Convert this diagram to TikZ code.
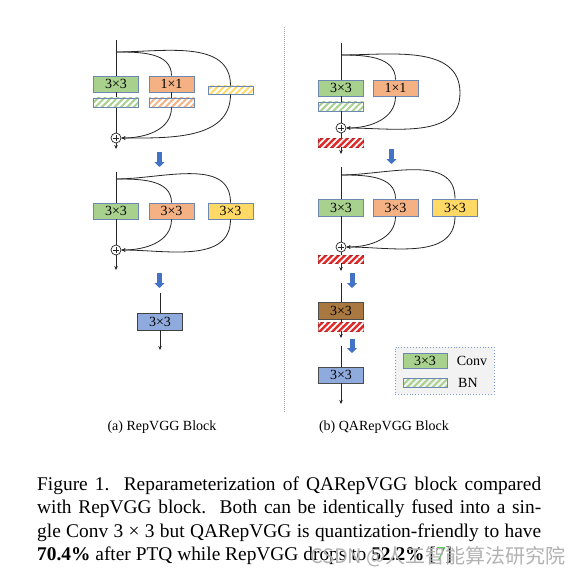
\documentclass[tikz,border=0pt]{standalone}
\usepackage{fontspec}
\setmainfont{Liberation Serif}
\newfontfamily\cjkwm{Noto Sans CJK SC}
\usetikzlibrary{patterns.meta,arrows.meta}
\definecolor{cgreen}{HTML}{A9D18E}
\definecolor{corange}{HTML}{F4B183}
\definecolor{cyellow}{HTML}{FFD966}
\definecolor{cblue}{HTML}{8FAADC}
\definecolor{cbrown}{HTML}{A87840}
\definecolor{cborder}{HTML}{6D87B3}
\definecolor{cred}{HTML}{E02A2A}
\definecolor{arrblue}{HTML}{4472C4}
\definecolor{sepgray}{HTML}{AAAAAA}
\definecolor{legbg}{HTML}{F2F2F2}
\definecolor{legbd}{HTML}{7F9CC8}
\definecolor{citegreen}{HTML}{00C000}
\newcommand\boxfont{\fontsize{14}{14}\selectfont}
\newcommand\capfont{\fontsize{19.4}{23.4}\selectfont}
\begin{document}
\begin{tikzpicture}[x=1pt,y=-1pt,
 conv/.style={draw=cborder, line width=0.9pt, fill=#1, minimum width=45pt, minimum height=16pt, inner sep=0pt, font=\boxfont},
 bnbox/.style={draw=cborder, line width=0.9pt, minimum width=45pt, minimum height=9pt, inner sep=0pt, pattern={Lines[angle=45,distance=4.5pt,line width=2pt]}, pattern color=#1},
 redbn/.style={draw=cred!80!black, line width=0.6pt, fill=cred, minimum width=45pt, minimum height=9pt, inner sep=0pt, postaction={pattern={Lines[angle=45,distance=4.5pt,line width=1.8pt]}, pattern color=white}},
 wire/.style={line width=0.8pt, draw=black!85},
 arr/.style={-{Stealth[length=4pt,width=3.5pt]}},
 plus/.style={circle, draw=black!85, line width=0.7pt, minimum size=10pt, inner sep=0pt, fill=white,
   path picture={\draw[line width=0.6pt] ([xshift=-3pt]path picture bounding box.center) -- ([xshift=3pt]path picture bounding box.center);
                 \draw[line width=0.6pt] ([yshift=-3pt]path picture bounding box.center) -- ([yshift=3pt]path picture bounding box.center);}},
 blarrow/.style={draw=arrblue, line width=5pt, -{Triangle[width=10pt,length=5pt]}},
 lab/.style={font=\fontsize{14}{14}\selectfont, inner sep=0pt},
]
\useasboundingbox[fill=white] (0,0) rectangle (579,578);

% separator
\coordinate (sepT) at (284,27);
\coordinate (sepB) at (284,413);
\draw[sepgray, line width=1pt, dash pattern=on 1pt off 1pt] (sepT) -- (sepB);

% ===== Left A1 =====
\coordinate (tA1) at (116,40);
\coordinate (brA1) at (116,52);
\node[conv=cgreen] (gA1) at (116,84) {3×3};
\node[bnbox=cgreen] (gbA1) at (116,102.5) {};
\node[conv=corange] (oA1) at (171.5,84) {1×1};
\node[bnbox=corange] (obA1) at (171.5,102.5) {};
\node[bnbox=cyellow, minimum height=8pt] (ybA1) at (230.5,90) {};
\node[plus] (pA1) at (116,138) {};
\coordinate (eA1) at (116,149);
\draw[wire] (tA1) -- (gA1.north) (gA1.south) -- (gbA1.north) (gbA1.south) -- (pA1.north);
\draw[wire,arr] (pA1.south) -- (eA1);
\draw[wire] (brA1) to[out=0,in=90] (oA1.north);
\draw[wire] (brA1) to[out=0,in=90] (ybA1.north);
\draw[wire] (oA1.south) -- (obA1.north);
\draw[wire,arr] (obA1.south) to[out=-90,in=0] (pA1.east);
\draw[wire,arr] (ybA1.south) to[out=-90,in=0] (pA1.east);
\coordinate (baA1s) at (159.5,152);
\coordinate (baA1e) at (159.5,167);
\draw[blarrow] (baA1s) -- (baA1e);

% ===== Left A2 =====
\coordinate (tA2) at (116,172);
\coordinate (brA2) at (116,179);
\node[conv=cgreen] (gA2) at (116,211) {3×3};
\node[conv=corange] (oA2) at (171.5,211) {3×3};
\node[conv=cyellow] (yA2) at (230.5,211) {3×3};
\node[plus] (pA2) at (116,250) {};
\coordinate (eA2) at (116,270);
\draw[wire] (tA2) -- (gA2.north) (gA2.south) -- (pA2.north);
\draw[wire,arr] (pA2.south) -- (eA2);
\draw[wire] (brA2) to[out=0,in=90] (oA2.north);
\draw[wire] (brA2) to[out=0,in=90] (yA2.north);
\draw[wire,arr] (oA2.south) to[out=-90,in=0] (pA2.east);
\draw[wire,arr] (yA2.south) to[out=-90,in=0] (pA2.east);
\coordinate (baA2s) at (159.5,273);
\coordinate (baA2e) at (159.5,288);
\draw[blarrow] (baA2s) -- (baA2e);

% ===== Left A3 =====
\coordinate (tA3) at (160,293);
\node[conv=cblue, draw=black!75, minimum height=17pt] (bA3) at (160,321.5) {3×3};
\coordinate (eA3) at (160,350);
\draw[wire] (tA3) -- (bA3.north);
\draw[wire,arr] (bA3.south) -- (eA3);
\node[lab, anchor=base] (capa) at (162,430) {(a) RepVGG Block};

% ===== Right B1 =====
\coordinate (tB1) at (341,43);
\coordinate (brB1) at (341,55);
\node[conv=cgreen] (gB1) at (341,88) {3×3};
\node[bnbox=cgreen] (gbB1) at (341,106.5) {};
\node[conv=corange] (oB1) at (395.5,88) {1×1};
\coordinate (loopB1) at (460,93);
\node[plus] (pB1) at (341,128) {};
\node[redbn] (rbB1) at (341,142.5) {};
\coordinate (eB1) at (341,154);
\draw[wire] (tB1) -- (gB1.north) (gB1.south) -- (gbB1.north) (gbB1.south) -- (pB1.north) (pB1.south) -- (rbB1.north);
\draw[wire,arr] (rbB1.south) -- (eB1);
\draw[wire] (brB1) to[out=0,in=90] (oB1.north);
\draw[wire,arr] (oB1.south) to[out=-90,in=0] (pB1.east);
\draw[wire,arr] (brB1) to[out=0,in=90] (loopB1) to[out=-90,in=0] (pB1.east);
\coordinate (baB1s) at (391.5,149);
\coordinate (baB1e) at (391.5,164);
\draw[blarrow] (baB1s) -- (baB1e);

% ===== Right B2 =====
\coordinate (tB2) at (341,167);
\coordinate (brB2) at (341,175);
\node[conv=cgreen, minimum height=17pt] (gB2) at (341,207.5) {3×3};
\node[conv=corange, minimum height=17pt] (oB2) at (395.5,207.5) {3×3};
\node[conv=cyellow, minimum height=17pt] (yB2) at (455,207.5) {3×3};
\node[plus] (pB2) at (341,247) {};
\node[redbn, minimum height=8pt] (rbB2) at (341,259) {};
\coordinate (eB2) at (341,271);
\draw[wire] (tB2) -- (gB2.north) (gB2.south) -- (pB2.north) (pB2.south) -- (rbB2.north);
\draw[wire,arr] (rbB2.south) -- (eB2);
\draw[wire] (brB2) to[out=0,in=90] (oB2.north);
\draw[wire] (brB2) to[out=0,in=90] (yB2.north);
\draw[wire,arr] (oB2.south) to[out=-90,in=0] (pB2.east);
\draw[wire,arr] (yB2.south) to[out=-90,in=0] (pB2.east);
\coordinate (baB2s) at (352,273);
\coordinate (baB2e) at (352,288);
\draw[blarrow] (baB2s) -- (baB2e);

% ===== Right B3 =====
\coordinate (tB3) at (341,283);
\node[conv=cbrown, draw=black!70, minimum height=17pt] (kB3) at (341,310.5) {3×3};
\node[redbn] (rbB3) at (341,326.5) {};
\coordinate (eB3) at (341,338);
\draw[wire] (tB3) -- (kB3.north) (kB3.south) -- (rbB3.north);
\draw[wire,arr] (rbB3.south) -- (eB3);
\coordinate (baB3s) at (352,339);
\coordinate (baB3e) at (352,353);
\draw[blarrow] (baB3s) -- (baB3e);

% ===== Right B4 =====
\coordinate (tB4) at (341,346);
\node[conv=cblue, draw=black!70] (uB4) at (341,375) {3×3};
\coordinate (eB4) at (341,404);
\draw[wire] (tB4) -- (uB4.north);
\draw[wire,arr] (uB4.south) -- (eB4);

% legend
\node[draw=legbd, fill=legbg, dotted, line width=0.9pt, minimum width=99pt, minimum height=47pt, inner sep=0pt] (leg) at (444.5,370.5) {};
\node[conv=cgreen, minimum width=44pt, minimum height=15pt] (lgC) at (425,360.5) {3×3};
\node[lab] (lgCt) at (472,360.5) {Conv};
\node[bnbox=cgreen, minimum width=44pt] (lgB) at (425,382.5) {};
\node[lab, anchor=west] (lgBt) at (458,382.5) {BN};

\node[lab, anchor=base] (capb) at (384,430) {(b) QARepVGG Block};

% figure caption
\node[anchor=north west, text width=504pt, align=justify, inner sep=0pt, font=\capfont] (cap) at (37,476.5)
{\hbadness=10000 Figure 1.\ \ Reparameterization of QARepVGG block compared\linebreak
with RepVGG block.\ \ Both can be identically fused into a sin-\linebreak
gle Conv 3 × 3 but QARepVGG is quantization-friendly to have\linebreak
\textbf{70.4\%} after PTQ while RepVGG drops to \textbf{52.2\%} [\textcolor{citegreen}{7}]};

% watermark
\node[anchor=east, inner sep=0pt, text=gray!60, font=\cjkwm\fontsize{20}{20}\selectfont] (wm) at (566,557) {CSDN @人工智能算法研究院};
\end{tikzpicture}
\end{document}
